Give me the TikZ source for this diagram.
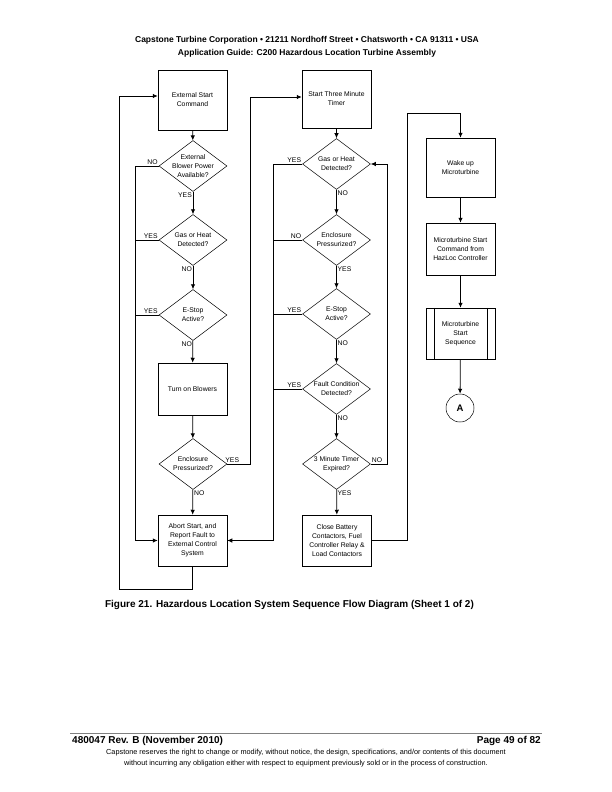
\documentclass[tikz,border=0pt]{standalone}
\usepackage{fontspec}
\setmainfont{Liberation Sans}
\usetikzlibrary{shapes.geometric,arrows.meta}

\tikzset{
  box/.style={draw,line width=0.5pt,minimum width=69pt,inner sep=1pt,align=center,font=\fontsize{6.8}{9}\selectfont},
  dec/.style={diamond,draw,line width=0.5pt,minimum width=68pt,minimum height=51pt,inner sep=0pt},
  dtxt/.style={align=center,font=\fontsize{6.8}{9}\selectfont},
  lbl/.style={font=\fontsize{6.8}{7}\selectfont,inner sep=1pt},
  flow/.style={-{Latex[length=5pt,width=4.5pt]},line width=0.8pt},
  wire/.style={line width=0.8pt}
}

\begin{document}
\begin{tikzpicture}[x=1pt,y=-1pt]
			\useasboundingbox (0,0) rectangle (612,792);
			% header
			\node[font=\bfseries\fontsize{8.5}{10}\selectfont] (hdra) at (307,40) {Capstone Turbine Corporation • 21211 Nordhoff Street • Chatsworth • CA 91311 • USA};
			\node[font=\bfseries\fontsize{8.5}{10}\selectfont] (hdrb) at (307,53) {Application Guide: C200 Hazardous Location Turbine Assembly};
			% left column
			\node[box,minimum height=60pt] (start) at (192.5,100) {External Start\\Command};
			\node[dec,label={[dtxt]center:External\\Blower Power\\Available?}] (blow) at (193,166) {};
			\node[dec,label={[dtxt]center:Gas or Heat\\Detected?}] (gasa) at (193,240) {};
			\node[dec,label={[dtxt]center:E-Stop\\Active?}] (estopa) at (193,315) {};
			\node[box,minimum height=52pt] (turnon) at (192.5,389) {Turn on Blowers};
			\node[dec,label={[dtxt]center:Enclosure\\Pressurized?}] (encla) at (193,464) {};
			\node[box,minimum height=51pt] (abort) at (192.5,540.5) {Abort Start, and\\Report Fault to\\External Control\\System};
			\coordinate (inl) at (135,0);
			\coordinate (outl) at (119,589);
			\coordinate (midl) at (250,0);
			% middle column
			\node[box,minimum height=58pt] (timer) at (336.5,99) {Start Three Minute\\Timer};
			\node[dec,label={[dtxt]center:Gas or Heat\\Detected?}] (gasb) at (336.5,164) {};
			\node[dec,label={[dtxt]center:Enclosure\\Pressurized?}] (enclb) at (336.5,240) {};
			\node[dec,label={[dtxt]center:E-Stop\\Active?}] (estopb) at (336.5,314) {};
			\node[dec,label={[dtxt]center:Fault Condition\\Detected?}] (fault) at (336.5,389) {};
			\node[dec,label={[dtxt]center:3 Minute Timer\\Expired?}] (expired) at (336.5,464) {};
			\node[box,minimum height=51pt] (close) at (337,540.5) {Close Battery\\Contactors, Fuel\\Controller Relay \&\\Load Contactors};
			\coordinate (inm) at (273,0);
			\coordinate (rtm) at (387,0);
			\coordinate (outr) at (407,113);
			% right column
			\node[box,minimum height=59pt] (wake) at (460.5,167.5) {Wake up\\Microturbine};
			\node[box,minimum height=52pt] (cmd) at (460.5,249) {Microturbine Start\\Command from\\HazLoc Controller};
			\node[box,minimum height=51pt] (seq) at (460.5,333.5) {Microturbine\\Start\\Sequence};
			\draw[line width=0.5pt] ([xshift=8pt]seq.north west) -- ([xshift=8pt]seq.south west);
			\draw[line width=0.5pt] ([xshift=-8pt]seq.north east) -- ([xshift=-8pt]seq.south east);
			\node[draw,circle,line width=0.5pt,minimum size=28pt,inner sep=0pt,font=\bfseries\fontsize{9.5}{10}\selectfont] (cona) at (460,408) {A};

			% left flow
			\draw[flow] (start) -- (blow);
			\draw[flow] (blow) -- (gasa);
			\draw[flow] (gasa) -- (estopa);
			\draw[flow] (estopa) -- (turnon);
			\draw[flow] (turnon) -- (encla);
			\draw[flow] (encla) -- (abort);
			\draw[flow] (blow.west) -- (blow.west -| inl) |- (abort.west);
			\draw[wire] (gasa.west) -- (gasa.west -| inl);
			\draw[wire] (estopa.west) -- (estopa.west -| inl);
			\draw[flow] (encla.east) -- (encla.east -| midl) |- ([yshift=2pt]timer.west);
			\draw[flow] (abort.south) |- (outl) |- ([yshift=4pt]start.west);
			\node[lbl,above left] at (blow.west) {NO};
			\node[lbl,below left] at (blow.south) {YES};
			\node[lbl,above left] at (gasa.west) {YES};
			\node[lbl,below left] at (gasa.south) {NO};
			\node[lbl,above left] at (estopa.west) {YES};
			\node[lbl,below left] at (estopa.south) {NO};
			\node[lbl,above right] at ([xshift=-3pt]encla.east) {YES};
			\node[lbl,below right] at (encla.south) {NO};

			% middle flow
			\draw[flow] (timer) -- (gasb);
			\draw[flow] (gasb) -- (enclb);
			\draw[flow] (enclb) -- (estopb);
			\draw[flow] (estopb) -- (fault);
			\draw[flow] (fault) -- (expired);
			\draw[flow] (expired) -- (close);
			\draw[flow] (gasb.west) -- (gasb.west -| inm) |- (abort.east);
			\draw[wire] (enclb.west) -- (enclb.west -| inm);
			\draw[wire] (estopb.west) -- (estopb.west -| inm);
			\draw[wire] (fault.west) -- (fault.west -| inm);
			\draw[flow] (expired.east) -- (expired.east -| rtm) |- (gasb.east);
			\draw[flow] (close.east) -| (outr) -| (wake.north);
			\node[lbl,above left] at (gasb.west) {YES};
			\node[lbl,below right] at (gasb.south) {NO};
			\node[lbl,above left] at (enclb.west) {NO};
			\node[lbl,below right] at (enclb.south) {YES};
			\node[lbl,above left] at (estopb.west) {YES};
			\node[lbl,below right] at (estopb.south) {NO};
			\node[lbl,above left] at (fault.west) {YES};
			\node[lbl,below right] at (fault.south) {NO};
			\node[lbl,above right] at (expired.east) {NO};
			\node[lbl,below right] at (expired.south) {YES};

			% right flow
			\draw[flow] (wake) -- (cmd);
			\draw[flow] (cmd) -- (seq);
			\draw[flow] (seq) -- (cona);

			% caption and footer
			\node[font=\bfseries\fontsize{10}{11}\selectfont] (caption) at (289.5,605) {Figure 21. Hazardous Location System Sequence Flow Diagram (Sheet 1 of 2)};
			\draw[gray,line width=0.8pt] (70,733) -- (542,733);
			\node[anchor=west,inner sep=0pt,font=\bfseries\fontsize{10}{10}\selectfont] (rev) at (72,741) {480047 Rev. B (November 2010)};
			\node[anchor=east,inner sep=0pt,font=\bfseries\fontsize{10}{10}\selectfont] (page) at (541,741) {Page 49 of 82};
			\node[align=center,inner sep=0pt,font=\fontsize{7.3}{11}\selectfont] (notice) at (306,758.5) {Capstone reserves the right to change or modify, without notice, the design, specifications, and/or contents of this document\\without incurring any obligation either with respect to equipment previously sold or in the process of construction.};
		\end{tikzpicture}
\end{document}
